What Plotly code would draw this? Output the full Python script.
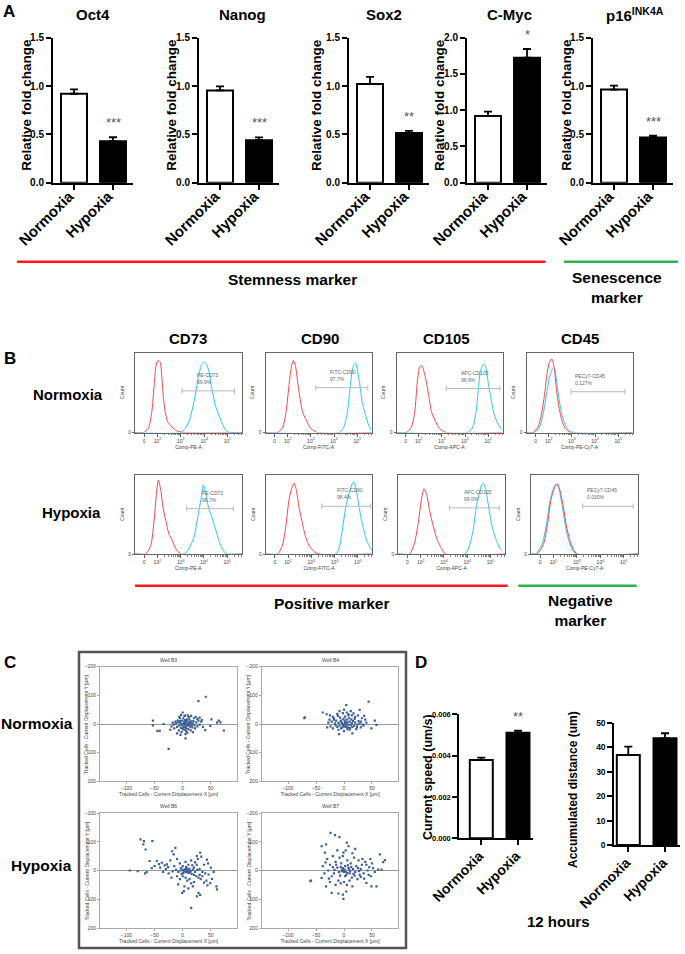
import math
import plotly.graph_objects as go

W, H = 685, 954
FAM = "Liberation Sans, Arial, sans-serif"


def X(px):
    return px / W


def Y(py):
    return 1 - py / H


# ---------------- DATA ----------------
conditions = ["Normoxia", "Hypoxia"]

oct4_mean = [0.92, 0.43]
oct4_err = [0.045, 0.04]
nanog_mean = [0.955, 0.44]
nanog_err = [0.042, 0.028]
sox2_mean = [1.02, 0.515]
sox2_err = [0.075, 0.021]
cmyc_mean = [0.92, 1.724]
cmyc_err = [0.06, 0.12]
p16_mean = [0.963, 0.468]
p16_err = [0.041, 0.02]
gene_titles = ["Oct4", "Nanog", "Sox2", "C-Myc", "p16<sup>INK4A</sup>"]
gene_sig = ["***", "***", "**", "*", "***"]

speed_mean = [0.00379, 0.00511]
speed_err = [0.00011, 0.0001]
dist_mean = [36.9, 43.7]
dist_err = [3.4, 2.1]

# flow cytometry histograms (x in decades of the biexponential axis, y normalised count)
cd73_n_red_x = [1.04, 1.40, 1.61, 1.76, 1.86, 1.94, 2.02, 2.12, 2.19, 2.26, 2.33, 2.43, 2.62, 2.83, 3.12, 5.62]
cd73_n_red_y = [0, 0, 0.05, 0.26, 0.59, 0.84, 0.90, 0.88, 0.68, 0.43, 0.26, 0.14, 0.07, 0.02, 0, 0]
cd73_n_cyan_x = [1.04, 2.97, 3.19, 3.40, 3.62, 3.76, 3.91, 4.00, 4.09, 4.19, 4.33, 4.48, 4.62, 4.76, 4.98, 5.62]
cd73_n_cyan_y = [0, 0, 0.05, 0.18, 0.47, 0.71, 0.86, 0.88, 0.86, 0.78, 0.55, 0.34, 0.22, 0.12, 0.01, 0]
cd90_n_red_x = [1.04, 1.57, 1.79, 1.93, 2.07, 2.17, 2.24, 2.33, 2.43, 2.53, 2.64, 2.79, 3.00, 3.29, 5.62]
cd90_n_red_y = [0, 0, 0.07, 0.26, 0.63, 0.84, 0.90, 0.84, 0.63, 0.43, 0.26, 0.16, 0.05, 0, 0]
cd90_n_cyan_x = [1.04, 4.22, 4.43, 4.58, 4.69, 4.79, 4.86, 4.93, 5.00, 5.12, 5.21, 5.36, 5.50, 5.60]
cd90_n_cyan_y = [0, 0, 0.07, 0.26, 0.55, 0.78, 0.85, 0.87, 0.80, 0.59, 0.39, 0.22, 0.09, 0.03]
cd105_n_red_x = [1.04, 1.47, 1.69, 1.83, 1.94, 2.04, 2.12, 2.21, 2.33, 2.45, 2.55, 2.69, 2.90, 3.19, 5.62]
cd105_n_red_y = [0, 0, 0.07, 0.26, 0.63, 0.82, 0.84, 0.78, 0.63, 0.43, 0.26, 0.16, 0.05, 0, 0]
cd105_n_cyan_x = [1.04, 4.12, 4.34, 4.48, 4.58, 4.66, 4.76, 4.83, 4.91, 5.00, 5.12, 5.26, 5.41, 5.55, 5.62]
cd105_n_cyan_y = [0, 0, 0.07, 0.26, 0.55, 0.76, 0.84, 0.86, 0.80, 0.63, 0.43, 0.22, 0.12, 0.05, 0.03]
cd45_n_red_x = [1.04, 1.33, 1.54, 1.68, 1.82, 1.92, 2.03, 2.14, 2.24, 2.33, 2.45, 2.58, 2.72, 2.93, 5.62]
cd45_n_red_y = [0, 0, 0.07, 0.22, 0.47, 0.72, 0.88, 0.92, 0.80, 0.55, 0.30, 0.14, 0.05, 0, 0]
cd45_n_cyan_x = [1.04, 1.40, 1.61, 1.78, 1.92, 2.06, 2.17, 2.24, 2.30, 2.42, 2.54, 2.68, 2.86, 3.07, 5.62]
cd45_n_cyan_y = [0, 0, 0.07, 0.26, 0.51, 0.72, 0.80, 0.81, 0.72, 0.47, 0.26, 0.12, 0.03, 0, 0]

cd73_h_red_x = [1.04, 1.50, 1.72, 1.86, 1.96, 2.04, 2.15, 2.24, 2.36, 2.50, 2.64, 2.79, 3.00, 5.62]
cd73_h_red_y = [0, 0, 0.11, 0.42, 0.76, 0.93, 0.80, 0.59, 0.42, 0.25, 0.17, 0.07, 0, 0]
cd73_h_cyan_x = [1.04, 3.15, 3.36, 3.57, 3.76, 3.89, 3.97, 4.08, 4.19, 4.33, 4.51, 4.69, 4.86, 5.00, 5.62]
cd73_h_cyan_y = [0, 0, 0.07, 0.21, 0.51, 0.72, 0.87, 0.76, 0.59, 0.47, 0.30, 0.13, 0.03, 0, 0]
cd90_h_red_x = [1.04, 1.55, 1.76, 1.90, 2.04, 2.15, 2.26, 2.36, 2.47, 2.62, 2.76, 2.90, 3.12, 3.33, 5.62]
cd90_h_red_y = [0, 0, 0.11, 0.34, 0.68, 0.82, 0.89, 0.80, 0.59, 0.38, 0.21, 0.11, 0.03, 0, 0]
cd90_h_cyan_x = [1.04, 4.05, 4.20, 4.33, 4.48, 4.62, 4.77, 4.83, 4.91, 5.05, 5.19, 5.38, 5.55, 5.65]
cd90_h_cyan_y = [0, 0, 0.08, 0.30, 0.59, 0.76, 0.89, 0.91, 0.84, 0.59, 0.38, 0.17, 0.07, 0.03]
cd105_h_red_x = [1.04, 1.52, 1.73, 1.89, 2.03, 2.14, 2.25, 2.38, 2.55, 2.72, 2.89, 3.07, 5.62]
cd105_h_red_y = [0, 0, 0.13, 0.38, 0.68, 0.82, 0.76, 0.55, 0.34, 0.17, 0.07, 0, 0]
cd105_h_cyan_x = [1.04, 3.91, 4.12, 4.25, 4.39, 4.53, 4.62, 4.70, 4.80, 4.94, 5.07, 5.25, 5.41, 5.48]
cd105_h_cyan_y = [0, 0, 0.13, 0.30, 0.59, 0.78, 0.87, 0.89, 0.80, 0.55, 0.34, 0.17, 0.07, 0.05]
cd45_h_red_x = [1.04, 1.31, 1.58, 1.75, 1.89, 2.07, 2.17, 2.28, 2.42, 2.56, 2.70, 2.83, 3.00, 5.62]
cd45_h_red_y = [0, 0, 0.13, 0.38, 0.68, 0.85, 0.88, 0.80, 0.59, 0.34, 0.17, 0.07, 0, 0]
cd45_h_cyan_x = [1.04, 1.24, 1.52, 1.70, 1.86, 2.03, 2.14, 2.25, 2.39, 2.53, 2.67, 2.81, 2.98, 5.62]
cd45_h_cyan_y = [0, 0, 0.13, 0.38, 0.68, 0.85, 0.88, 0.80, 0.57, 0.32, 0.15, 0.05, 0, 0]

marker_names = ["CD73", "CD90", "CD105", "CD45"]
channel_names = ["Comp-PE-A", "Comp-FITC-A", "Comp-APC-A", "Comp-PE-Cy7-A"]
gate_names = ["PE-CD73", "FITC-CD90", "APC-CD105", "PECy7-CD45"]
gate_pct_norm = ["99.9%", "97.7%", "98.9%", "0.127%"]
gate_pct_hyp = ["96.7%", "98.4%", "99.0%", "0.030%"]
gate_x0_norm = [3.05, 3.21, 3.19, 2.97]
gate_x1_norm = [5.30, 5.46, 5.51, 5.29]
gate_y_norm = [0.52, 0.56, 0.55, 0.51]
gate_x0_hyp = [3.26, 3.45, 3.23, 3.25]
gate_x1_hyp = [5.26, 5.55, 5.37, 5.40]
gate_y_hyp = [0.57, 0.60, 0.58, 0.60]

# cell tracking displacements (x, y in µm)
b3_x = [41, 28, -53, -53, -34, -45, -41, -25, 73, 64, 67, 61, 51, 49, 40, 5, -4, -10, 0, 4, 20, 23, 26, 30, 28, 33,
        -18, -20, -15, -22, -12, 0, 2, 4, 6, 8, 10, -2, -4, 1, 3, 5, 7, 9, 11, 12, 14, -6, -8, -1, 2, 4, 6, 8, 13,
        15, 16, 18, -3, -5, 0, 3, -7, 10, 12, 17, 19, 21, 24, -10, -9, 1, 6, -2, 8, -5, 14, 22, 26, 30, 34, 36, -13,
        -16, -6, 3, 11, 9, -3, 15, 5, 18]
b3_y = [-95, -80, -12, 5, 0, 24, 24, 87, 23, -12, -6, -5, -16, 7, 21, 50, 38, 33, -40, -29, -20, -25, -18, -22,
        -12, -8, -5, 8, 15, 20, -2, 0, -3, 2, -5, 3, -2, 4, -3, 8, -8, 10, -10, 6, -6, 2, -4, 6, -6, -12, 12, -14,
        15, -16, 9, -9, 4, -2, 14, -10, 18, 20, 22, 18, -15, 12, -10, 5, -6, 10, -12, -20, 25, 28, 30, -20, 22, 15,
        8, 2, -14, 10, -8, 2, -25, -28, -24, -30, -32, -28, 35, 28]
b4_x = [-71, -70, 44, 4, -38, -31, 55, 58, 49, -9, 15, 28, 17, -25, -20, -28, -24, -30, -18, -15, -12, -8, 0, 5,
        8, 12, 20, 25, 32, 38, 40, 35, 30, 22, 10, 0, -5, -10, -20, 0, 2, 4, 6, -2, -4, 8, 10, -6, 3, 1, 12, 14,
        -8, -10, 5, 7, 16, 18, -12, -14, 9, -1, 20, 24, 26, -16, 11, -3, 13, 6, -7, 2, 15, 28, 30, -22, 33, -18,
        0, 3, -5, 19, 23, -11, 8, -26, 36, -2, 14]
b4_y = [-20, -23, -78, -66, -40, -34, -12, 3, 15, 35, 33, -49, -37, -30, -25, -5, 8, 12, -15, 5, -35, -45, -50,
        -40, -30, -45, -25, -30, -20, -15, -5, 5, 12, 18, 20, 25, 15, 20, 15, 0, -4, 3, -6, 5, -3, 2, -8, -8, 10,
        -12, 4, -3, 6, -4, -15, 12, -10, 6, 10, -12, -20, -18, -5, 2, -10, -2, 14, 12, -16, 18, -22, -26, 10, -2,
        -8, -8, 2, -20, 8, -6, -12, -18, 10, -28, -34, -15, -28, -38, -30]
b6_x = [-75, -69, -70, -66, -54, -59, -94, -80, -64, -67, -50, -46, -37, -28, -19, -13, -16, -1, 2, 15, 25, 28,
        31, 46, 52, 60, 61, 49, 31, 43, 25, -40, -35, -30, -25, -22, -10, -5, 0, 5, 10, 15, 20, 25, 30, 35, 40,
        38, 45, 50, 55, -15, -8, -3, 2, 4, 6, 8, 10, 12, 14, 16, 18, 20, 22, 24, 26, 28, 30, 32, 35, -2, 0, 5, 8,
        12, 15, 18, 20, -5, -10, -12, -18, 0, 3, 7, 9, 11, 13, -4, 1, 6, 17, 22, 27, 33, 38, 42, 44, -8, 3, 10,
        -20, -26, -32, -42, -55]
b6_y = [-108, -102, -91, -73, -102, -33, 0, 2, 6, 10, -15, -33, -27, -21, -67, -79, -56, 78, 72, 130, 90, 78, 85,
        14, 29, 55, 66, 44, -62, -38, -50, -10, 5, -5, 10, -35, -40, -25, -15, -30, -20, -35, -10, -20, -5, 5, 10,
        -20, -25, -10, 5, -15, 5, -8, 3, -4, 6, -2, 8, -6, 2, 12, -3, 15, 5, 20, -2, 25, 15, 30, 20, 12, 20, 25,
        35, 30, 45, 55, 40, 30, 20, -2, 3, -2, 1, -8, 3, -1, 7, 0, 9, -12, -18, -28, -40, -48, 42, 35, 52, 48, 55,
        62, 25, -12, -18, -22, -8]
b7_x = [-24, -16, -8, -40, -32, -34, -60, -59, -40, -32, -22, -10, -2, -1, 4, 64, 70, 73, 67, 61, 40, 49, 58, 5,
        8, -1, -30, -25, -28, -35, -38, -20, -15, -12, -18, -22, -8, -5, -3, 0, 2, 4, 6, 8, 10, 12, 14, 16, 18, 20,
        22, 24, 26, 28, 30, 32, 35, 38, 42, 45, 48, 52, 55, -10, -6, 0, 5, 10, 15, -15, -25, -2, 3, -12, 15, 20,
        -1, 1, 3, -4, -2, 6, -6, 9, 11, -9, 7, 2, -7, 13, 17, -14, 19, -17, 25, 27, -20, 30, 33, 36, -27, 40, -33,
        44, 47, 50]
b7_y = [-131, -123, -116, -85, -91, -62, 37, 35, 26, 55, 78, 80, 84, 99, 73, -56, -29, -36, -3, -3, 43, 55, 55,
        -97, -85, -62, -40, -20, 0, 10, -15, -50, -30, -10, 10, 20, -45, -25, -5, 5, -15, 15, -35, -8, 10, -25, 25,
        -5, -45, 5, -15, 30, -35, 15, -5, -20, 10, -30, 0, -12, 20, -8, 5, 35, 45, 40, 50, 35, 55, 50, 40, -50,
        -70, -70, -60, -75, 1, -3, 4, 2, -8, 8, -12, -4, 2, 6, -18, 20, 18, -12, 12, -20, 18, -2, -8, 2, -12, 22,
        -40, 28, 28, -20, -28, 15, -40, -25]
well_names = ["Well B3", "Well B4", "Well B6", "Well B7"]

# ---------------- FIGURE ----------------
fig = go.Figure()
layout = {}
annotations = []
shapes = []
count = [0]


def new_axes(x0, x1, ytop, ybot, xopts, yopts):
    count[0] += 1
    i = count[0]
    xn = "xaxis" if i == 1 else f"xaxis{i}"
    yn = "yaxis" if i == 1 else f"yaxis{i}"
    xr = "x" if i == 1 else f"x{i}"
    yr = "y" if i == 1 else f"y{i}"
    layout[xn] = dict(domain=[X(x0), X(x1)], anchor=yr, automargin=False, **xopts)
    layout[yn] = dict(domain=[Y(ybot), Y(ytop)], anchor=xr, automargin=False, **yopts)
    return xr, yr


def text(px, py, s, size, bold=True, angle=0, color="black", xanchor="center"):
    annotations.append(dict(
        x=X(px), y=Y(py), xref="paper", yref="paper", showarrow=False,
        text=f"<b>{s}</b>" if bold else s, textangle=angle, xanchor=xanchor, yanchor="middle",
        font=dict(family=FAM, size=size, color=color)))


def hline(x0, x1, py, color, width=2.5):
    shapes.append(dict(type="line", xref="paper", yref="paper", x0=X(x0), x1=X(x1),
                       y0=Y(py), y1=Y(py), line=dict(color=color, width=width)))


def bar_panel(axis_px, ytop, ybot, x_left_off, spacing, bar_w_px, xend_px, ymax, dtick, tickfmt,
              means, errs, sig, tickfont, ytickfont, ystar_shift=5, lab_up=-8, lab_left=-5):
    first = -x_left_off / spacing
    last = (xend_px - axis_px - x_left_off) / spacing
    xr, yr = new_axes(
        axis_px, xend_px, ytop, ybot,
        dict(range=[first, last], tickvals=[0, 1], ticktext=conditions, tickangle=-45,
             ticklabelstandoff=lab_up, ticklabelshift=lab_left,
             showline=True, linecolor="black", linewidth=2, ticks="outside", ticklen=5, tickwidth=2,
             tickcolor="black", tickfont=dict(family=FAM, size=tickfont, color="black", weight="bold"),
             showgrid=False, zeroline=False, fixedrange=True),
        dict(range=[0, ymax], dtick=dtick, tickformat=tickfmt, showline=True, linecolor="black",
             linewidth=2, ticks="outside", ticklen=5, tickwidth=2, tickcolor="black",
             tickfont=dict(family=FAM, size=ytickfont, color="black", weight="bold"),
             showgrid=False, zeroline=False, fixedrange=True))
    fig.add_trace(go.Bar(
        x=[0, 1], y=means, width=bar_w_px / spacing, xaxis=xr, yaxis=yr,
        marker=dict(color=["white", "black"], line=dict(color="black", width=2)),
        error_y=dict(type="data", array=errs, arrayminus=[0, 0], symmetric=False,
                     color="black", thickness=1.8, width=4),
        showlegend=False))
    if sig:
        annotations.append(dict(x=1, y=means[1] + errs[1], xref=xr, yref=yr, text=sig, showarrow=False,
                                yanchor="bottom", yshift=ystar_shift,
                                font=dict(family=FAM, size=13, color="#555")))
    return xr, yr


# ---- Panel A ----
axes_a = [53, 199, 349, 467, 593]
title_a = [93, 243, 384, 509, 635]
ylab_a = [26.7, 171.7, 317, 440, 566.7]
means_a = [oct4_mean, nanog_mean, sox2_mean, cmyc_mean, p16_mean]
errs_a = [oct4_err, nanog_err, sox2_err, cmyc_err, p16_err]
for i in range(5):
    ymax = 2.0 if i == 3 else 1.5
    bar_panel(axes_a[i], 37.7, 182.7, 21, 39, 26, axes_a[i] + 80, ymax, 0.5, ".1f",
              means_a[i], errs_a[i], gene_sig[i], 15, 10)
    text(title_a[i], 15, gene_titles[i], 15)
    text(ylab_a[i], 105, "Relative fold change", 13.5, angle=-90)

text(9, 11, "A", 17)
hline(17, 545.5, 261.7, "#FF1A1A")
hline(564, 678, 261.7, "#2DB34A")
text(292, 279, "Stemness marker", 15.5)
text(617, 288, "Senescence<br>marker", 15.5)

# ---- Panel B ----
text(10, 358, "B", 17)
col_title_x = [188, 320, 447, 580]
for i in range(4):
    text(col_title_x[i], 338, marker_names[i], 15)
text(68, 394, "Normoxia", 15)
text(71, 512, "Hypoxia", 15)

box_n = [(135, 242), (265.5, 371.5), (396.5, 502.5), (526.5, 632.5)]
box_h = [(135, 241.7), (265.7, 372.3), (398.3, 505), (531, 638.3)]
curves_n = [(cd73_n_red_x, cd73_n_red_y, cd73_n_cyan_x, cd73_n_cyan_y),
            (cd90_n_red_x, cd90_n_red_y, cd90_n_cyan_x, cd90_n_cyan_y),
            (cd105_n_red_x, cd105_n_red_y, cd105_n_cyan_x, cd105_n_cyan_y),
            (cd45_n_red_x, cd45_n_red_y, cd45_n_cyan_x, cd45_n_cyan_y)]
curves_h = [(cd73_h_red_x, cd73_h_red_y, cd73_h_cyan_x, cd73_h_cyan_y),
            (cd90_h_red_x, cd90_h_red_y, cd90_h_cyan_x, cd90_h_cyan_y),
            (cd105_h_red_x, cd105_h_red_y, cd105_h_cyan_x, cd105_h_cyan_y),
            (cd45_h_red_x, cd45_h_red_y, cd45_h_cyan_x, cd45_h_cyan_y)]

minor_vals = []
for d in range(2, 6):
    for k in range(2, 10):
        v = d + math.log10(k)
        if v < 5.62:
            minor_vals.append(v)

tiny = dict(family=FAM, size=5, color="#444")


def hist_panel(box, ytop, ybot, curves, i, gx0, gx1, gy, pct):
    xr, yr = new_axes(
        box[0], box[1], ytop, ybot,
        dict(range=[1.04, 5.62], tickvals=[1.43, 2, 3, 4, 5],
             ticktext=["0", "10<sup>2</sup>", "10<sup>3</sup>", "10<sup>4</sup>", "10<sup>5</sup>"],
             showline=True, mirror=True, linecolor="#666", linewidth=1, ticks="outside", ticklen=3,
             tickcolor="#666", tickfont=tiny, showgrid=False, zeroline=False,
             minor=dict(tickvals=minor_vals, ticks="outside", ticklen=1.5, tickcolor="#888"),
             title=dict(text=channel_names[i], font=tiny, standoff=2), fixedrange=True),
        dict(range=[0, 1.0], tickvals=[0], ticktext=["0"], showline=True, mirror=True, linecolor="#666",
             linewidth=1, ticks="outside", ticklen=2, tickcolor="#666", tickfont=tiny, showgrid=False,
             zeroline=False, title=dict(text="Count", font=tiny, standoff=3), fixedrange=True))
    rx, ry, cx, cy = curves
    order = [(rx, ry, "#F2474F"), (cx, cy, "#2CC6EE")] if i != 3 else [(cx, cy, "#2CC6EE"), (rx, ry, "#F2474F")]
    for xs, ys, col in order:
        fig.add_trace(go.Scatter(x=xs, y=ys, mode="lines", xaxis=xr, yaxis=yr, showlegend=False,
                                 line=dict(color=col, width=1, shape="spline", smoothing=0.6),
                                 cliponaxis=True))
    fig.add_trace(go.Scatter(x=[gx0, gx1], y=[gy, gy], mode="lines+markers", xaxis=xr, yaxis=yr,
                             showlegend=False, line=dict(color="#BBBBBB", width=1),
                             marker=dict(symbol="line-ns", size=4, line=dict(color="#BBBBBB", width=1))))
    annotations.append(dict(x=gx0 + 0.55 if i != 3 else gx0 + 0.1, y=gy + 0.05, xref=xr, yref=yr,
                            text=f"{gate_names[i]}<br>{pct}", showarrow=False, xanchor="left",
                            yanchor="bottom", align="left",
                            font=dict(family=FAM, size=5, color="#666")))


for i in range(4):
    hist_panel(box_n[i], 352.5, 432.5, curves_n[i], i, gate_x0_norm[i], gate_x1_norm[i], gate_y_norm[i],
               gate_pct_norm[i])
    hist_panel(box_h[i], 474.5, 554, curves_h[i], i, gate_x0_hyp[i], gate_x1_hyp[i], gate_y_hyp[i],
               gate_pct_hyp[i])

hline(135, 507.7, 585.7, "#FF1A1A")
hline(518.3, 636.7, 585.7, "#2DB34A")
text(331, 603, "Positive marker", 15.5)
text(580, 610, "Negative<br>marker", 15.5)

# ---- Panel C ----
shapes.append(dict(type="rect", xref="paper", yref="paper", x0=X(79), x1=X(406), y0=Y(948), y1=Y(652),
                   line=dict(color="#555", width=2.5)))
text(10, 662, "C", 17)
text(37, 723, "Normoxia", 15.5)
text(41, 865, "Hypoxia", 15.5)

sc_boxes = [((100, 237.3), (666.6, 781.4)), ((261.7, 398.3), (666.6, 781.4)),
            ((100, 237.3), (813, 928)), ((261.7, 398.3), (813, 928))]
sc_ytitle_x = [86, 248, 86, 248]
sc_data = [(b3_x, b3_y), (b4_x, b4_y), (b6_x, b6_y), (b7_x, b7_y)]
for i in range(4):
    (x0, x1), (yt, yb) = sc_boxes[i]
    xr, yr = new_axes(
        x0, x1, yt, yb,
        dict(range=[-147, 97], tickvals=[-100, -50, 0, 50], showline=True, mirror=True, linecolor="#AAA",
             linewidth=1, ticks="outside", ticklen=2, tickcolor="#AAA", tickfont=tiny, showgrid=False,
             zeroline=False, title=dict(text="Tracked Cells - Current Displacement X [µm]", font=tiny,
                                        standoff=2), fixedrange=True),
        dict(range=[200, -200], tickvals=[-200, -100, 0, 100, 200], showline=True, mirror=True,
             linecolor="#AAA", linewidth=1, ticks="outside", ticklen=2, tickcolor="#AAA", tickfont=tiny,
             showgrid=False, zeroline=True, zerolinecolor="#999", zerolinewidth=1, fixedrange=True))
    fig.add_trace(go.Scatter(x=sc_data[i][0], y=sc_data[i][1], mode="markers", xaxis=xr, yaxis=yr,
                             showlegend=False, marker=dict(size=2.2, color="#3D5F96", symbol="square")))
    text((x0 + x1) / 2, yt - 7, well_names[i], 5, bold=False, color="#444")
    text(sc_ytitle_x[i], (yt + yb) / 2, "Tracked Cells - Current Displacement Y [µm]", 5, bold=False,
         angle=-90, color="#444")

# ---- Panel D ----
text(421, 662, "D", 17)
bar_panel(459.3, 714.3, 838.3, 22, 36.7, 23, 533, 0.006, 0.002, ".3f", speed_mean, speed_err, "**", 14, 7.5,
          lab_up=-3, lab_left=-2)
bar_panel(614.3, 723, 845, 14, 36.7, 23, 680, 50, 10, "d", dist_mean, dist_err, "", 14, 8.5,
          lab_up=-3, lab_left=-2)
text(428, 777, "Current speed (um/s)", 12.5, angle=-90)
text(573, 790, "Accumulated distance (um)", 12, angle=-90)
text(558, 921, "12 hours", 15)

layout.update(dict(width=W, height=H, margin=dict(l=0, r=0, t=0, b=0, pad=0, autoexpand=False),
                   paper_bgcolor="white", plot_bgcolor="rgba(0,0,0,0)", showlegend=False,
                   annotations=annotations, shapes=shapes, bargap=0, font=dict(family=FAM),
                   hovermode=False))
fig.update_layout(**layout)
fig.write_html("out.html", config={"displayModeBar": False, "staticPlot": True},
               post_script="document.body.style.margin='0px';document.body.style.overflow='hidden';")
